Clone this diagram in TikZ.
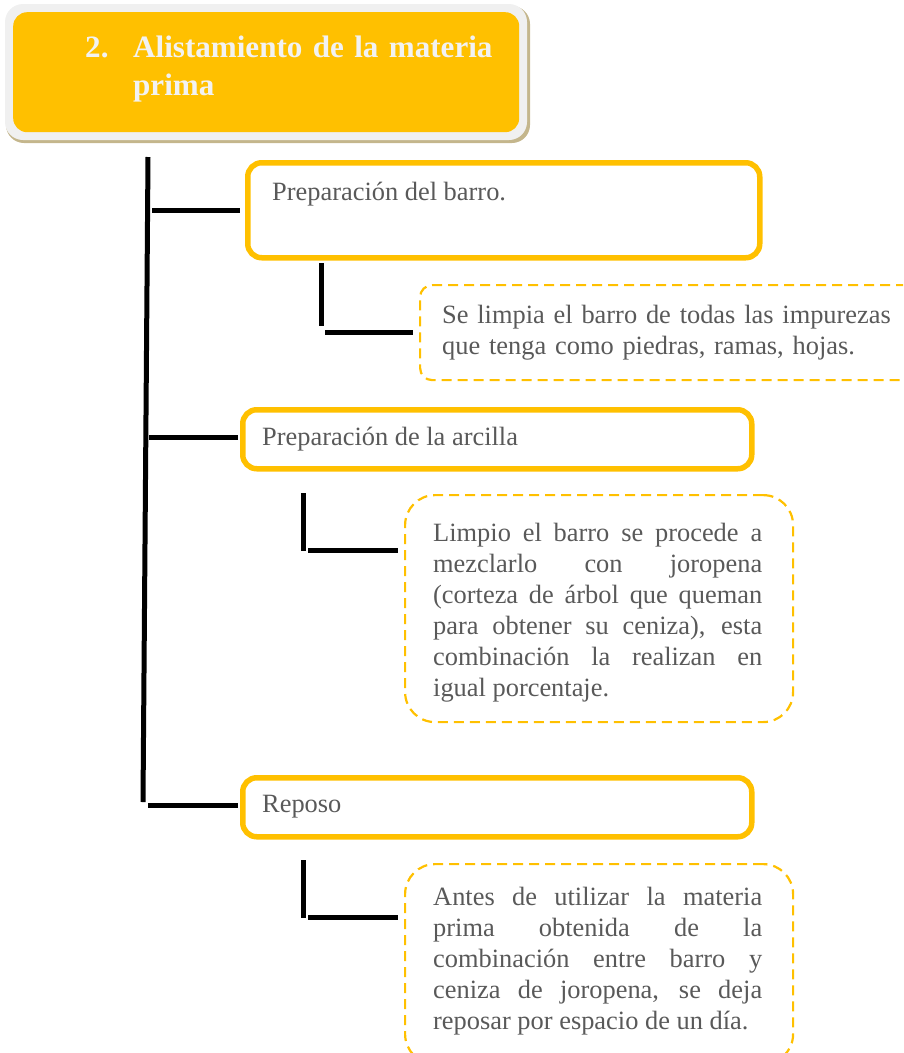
\documentclass[tikz,border=0pt]{standalone}
\usepackage{fontspec}
\setmainfont{Liberation Serif}
\definecolor{gold}{HTML}{FFC000}
\definecolor{txtgray}{HTML}{595959}
\definecolor{framegray}{HTML}{F0F0F0}
\definecolor{shadowtan}{HTML}{C4B68C}
\definecolor{titlewhite}{HTML}{F2F2F2}
\tolerance=10000
\hyphenpenalty=10000
\begin{document}
\begin{tikzpicture}[x=1pt,y=-1pt]
\tikzset{
  conn/.style={line width=5pt, black, line cap=butt},
  solidbox/.style={draw=gold, line width=5.5pt, rounded corners=14pt, anchor=north west, inner sep=0pt},
  dashbox/.style={draw=gold, line width=2.2pt, dash pattern=on 10pt off 6pt, anchor=north west, inner sep=0pt},
  body/.style={text=txtgray, font=\fontsize{26.4}{31}\selectfont, inner sep=0pt, anchor=base west},
  titletext/.style={text=titlewhite, font=\fontsize{31.1}{38}\selectfont\bfseries, inner sep=0pt, anchor=base west, text width=440pt, align=left},
}
\useasboundingbox (0,0) rectangle (903,1053);
\clip (0,0) rectangle (903,1053);

% title
\fill[shadowtan, rounded corners=18pt] (6,6) rectangle (530,143);
\fill[framegray, rounded corners=18pt] (5,4) rectangle (527,140);
\node[fill=gold, rounded corners=14pt, minimum width=506pt, minimum height=120pt, anchor=north west, inner sep=0pt] (title) at (13,12) {};
\node[titletext] (tt) at (85,57) {\makebox[48pt][l]{2.}Alistamiento de la materia\\\hspace*{48pt}prima};

% boxes
\node[solidbox, minimum width=512pt, minimum height=95pt] (b1) at (245,160) {};
\node[solidbox, minimum width=509pt, minimum height=59pt] (b2) at (240,407) {};
\node[solidbox, minimum width=509pt, minimum height=59pt] (b3) at (240,775) {};
\node[dashbox, rounded corners=12pt, minimum width=530pt, minimum height=95pt] (d1) at (419,284) {};
\node[dashbox, rounded corners=30pt, minimum width=388pt, minimum height=227pt] (d2) at (404,494) {};
\node[dashbox, rounded corners=30pt, minimum width=388pt, minimum height=200pt] (d3) at (404,863) {};

% texts
\node[body] (t1) at (272,200) {Preparación del barro.};
\node[body, text width=470pt, align=left] (t1s) at (442,323) {Se limpia el barro de todas las impurezas\\que tenga como piedras, ramas, hojas.};
\node[body] (t2) at (262,445) {Preparación de la arcilla};
\node[body, text width=329pt, align=justify] (t2s) at (433,541) {Limpio el barro se procede a\linebreak mezclarlo con joropena\linebreak (corteza de árbol que queman\linebreak para obtener su ceniza), esta\linebreak combinación la realizan en\linebreak igual porcentaje.};
\node[body] (t3) at (262,812) {Reposo};
\node[body, text width=329pt, align=justify] (t3s) at (433,905) {Antes de utilizar la materia\linebreak prima obtenida de la\linebreak combinación entre barro y\linebreak ceniza de joropena, se deja\linebreak reposar por espacio de un día.};

% main spine
\coordinate (mtop) at (148,157);
\coordinate (mbot) at (143,802);
\draw[conn] (mtop) -- (mbot);
\coordinate (j1) at (152,210);
\coordinate (j2) at (149,437);
\coordinate (j3) at (148,805);
\draw[conn, shorten >=5pt] (j1) -- (j1 -| b1.west);
\draw[conn, shorten >=2pt] (j2) -- (j2 -| b2.west);
\draw[conn, shorten >=2pt] (j3) -- (j3 -| b3.west);

% sub connectors
\coordinate (s1t) at (321,263);
\coordinate (s1b) at (321,326);
\coordinate (s1h) at (325,332);
\draw[conn] (s1t) -- (s1b);
\draw[conn, shorten >=6pt] (s1h) -- (s1h -| d1.west);

\coordinate (s2t) at (303,493);
\coordinate (s2b) at (303,551);
\coordinate (s2h) at (308,550);
\draw[conn] (s2t) -- (s2b);
\draw[conn, shorten >=6pt] (s2h) -- (s2h -| d2.west);

\coordinate (s3t) at (303,860);
\coordinate (s3b) at (303,918);
\coordinate (s3h) at (308,917);
\draw[conn] (s3t) -- (s3b);
\draw[conn, shorten >=6pt] (s3h) -- (s3h -| d3.west);
\end{tikzpicture}
\end{document}
